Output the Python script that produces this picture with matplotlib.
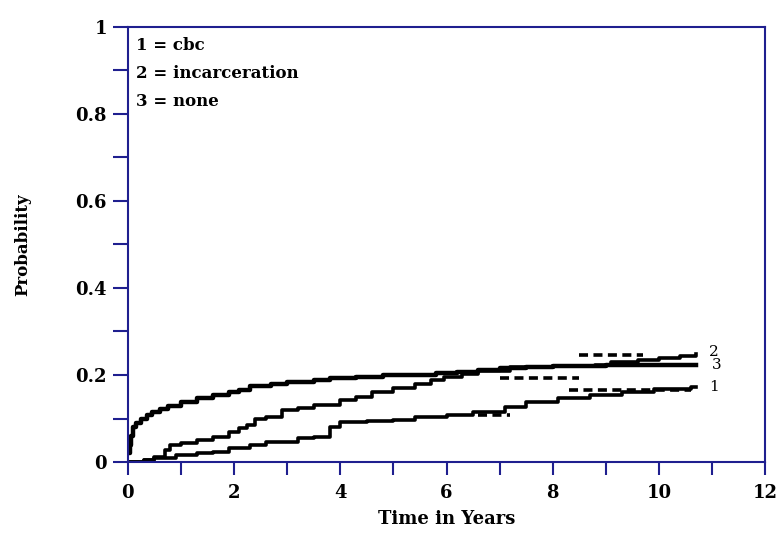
import matplotlib
matplotlib.use("Agg")
import matplotlib.pyplot as plt
from matplotlib.ticker import MultipleLocator

# ---- data ----
t_none = [0, 0.03, 0.06, 0.1, 0.15, 0.25, 0.35, 0.45, 0.6, 0.75, 1.0, 1.3, 1.6, 1.9, 2.1, 2.3, 2.7, 3.0, 3.5, 3.8, 4.3, 4.8, 5.3, 5.8, 6.2, 6.6, 7.0, 7.5, 8.0, 9.0, 10.0, 10.7]
p_none = [0.02, 0.04, 0.06, 0.08, 0.09, 0.10, 0.108, 0.115, 0.122, 0.128, 0.138, 0.147, 0.154, 0.161, 0.166, 0.174, 0.18, 0.184, 0.188, 0.192, 0.195, 0.199, 0.201, 0.204, 0.207, 0.212, 0.216, 0.219, 0.221, 0.222, 0.222, 0.222]

t_inc = [0, 0.3, 0.5, 0.7, 0.8, 1.0, 1.3, 1.6, 1.9, 2.1, 2.25, 2.4, 2.6, 2.9, 3.2, 3.5, 4.0, 4.3, 4.6, 5.0, 5.4, 5.7, 5.95, 6.3, 6.6, 7.2, 8.0, 8.8, 9.1, 9.6, 10.0, 10.4, 10.7]
p_inc = [0.0, 0.005, 0.012, 0.028, 0.04, 0.044, 0.05, 0.058, 0.07, 0.078, 0.085, 0.10, 0.103, 0.12, 0.125, 0.131, 0.143, 0.15, 0.161, 0.17, 0.18, 0.188, 0.196, 0.203, 0.21, 0.218, 0.22, 0.222, 0.23, 0.234, 0.238, 0.243, 0.248]

t_cbc = [0, 0.3, 0.5, 0.9, 1.3, 1.6, 1.9, 2.3, 2.6, 3.2, 3.5, 3.8, 4.0, 4.5, 5.0, 5.4, 6.0, 6.5, 7.1, 7.5, 8.1, 8.7, 9.3, 9.9, 10.6, 10.7]
p_cbc = [0.0, 0.005, 0.01, 0.016, 0.02, 0.022, 0.032, 0.04, 0.046, 0.055, 0.058, 0.08, 0.092, 0.095, 0.097, 0.103, 0.108, 0.115, 0.126, 0.138, 0.147, 0.154, 0.161, 0.168, 0.172, 0.172]

# dashed segments (start time, end time, probability)
dash_t0 = [7.0, 8.5, 6.6, 8.3]
dash_t1 = [8.5, 9.7, 7.2, 10.6]
dash_p = [0.193, 0.246, 0.108, 0.165]

curve_labels = ["2", "3", "1"]
curve_label_x = [10.95, 11.0, 10.95]
curve_label_y = [0.253, 0.222, 0.172]

legend_lines = ["1 = cbc", "2 = incarceration", "3 = none"]

x_label = "Time in Years"
y_label = "Probability"

# ---- plot ----
navy = "#1f1f8f"
fig = plt.figure(figsize=(7.8, 5.36), dpi=100)
ax = fig.add_axes([0.164, 0.138, 0.817, 0.812])

ax.plot(t_none, p_none, drawstyle="steps-post", color="black", lw=3.2)
ax.plot(t_inc, p_inc, drawstyle="steps-post", color="black", lw=2.6)
ax.plot(t_cbc, p_cbc, drawstyle="steps-post", color="black", lw=2.6)
for a, b, p in zip(dash_t0, dash_t1, dash_p):
    ax.plot([a, b], [p, p], color="black", lw=2.6, linestyle=(0, (2.5, 1.5)))

ax.set_xlim(0, 12)
ax.set_ylim(0, 1)

for s in ax.spines.values():
    s.set_color(navy)
    s.set_linewidth(1.5)

ax.xaxis.set_major_locator(MultipleLocator(2))
ax.xaxis.set_minor_locator(MultipleLocator(1))
ax.yaxis.set_major_locator(MultipleLocator(0.2))
ax.yaxis.set_minor_locator(MultipleLocator(0.1))
ax.tick_params(which="both", direction="out", color=navy, width=1.5)
ax.tick_params(axis="x", which="both", length=9.5, pad=6)
ax.tick_params(axis="y", which="both", length=11, pad=4)
ax.tick_params(right=False, top=False)

tick_font = dict(family="DejaVu Serif", weight="bold", size=13)
ax.set_xticks([0, 2, 4, 6, 8, 10, 12])
ax.set_xticklabels(["0", "2", "4", "6", "8", "10", "12"], fontdict=tick_font)
ax.set_yticks([0, 0.2, 0.4, 0.6, 0.8, 1.0])
ax.set_yticklabels(["0", "0.2", "0.4", "0.6", "0.8", "1"], fontdict=tick_font)

ax.set_xlabel(x_label, fontdict=dict(family="DejaVu Serif", weight="bold", size=13), labelpad=6)
ax.set_ylabel(y_label, fontdict=dict(family="DejaVu Serif", weight="bold", size=12), labelpad=32)

for i, txt in enumerate(legend_lines):
    ax.text(0.012, 0.957 - i * 0.064, txt, transform=ax.transAxes, ha="left", va="center",
            family="DejaVu Serif", weight="bold", size=12)

for lab, x, y in zip(curve_labels, curve_label_x, curve_label_y):
    ax.text(x, y, lab, ha="left", va="center", family="DejaVu Serif", size=11)

fig.savefig("out.png", dpi=100)
